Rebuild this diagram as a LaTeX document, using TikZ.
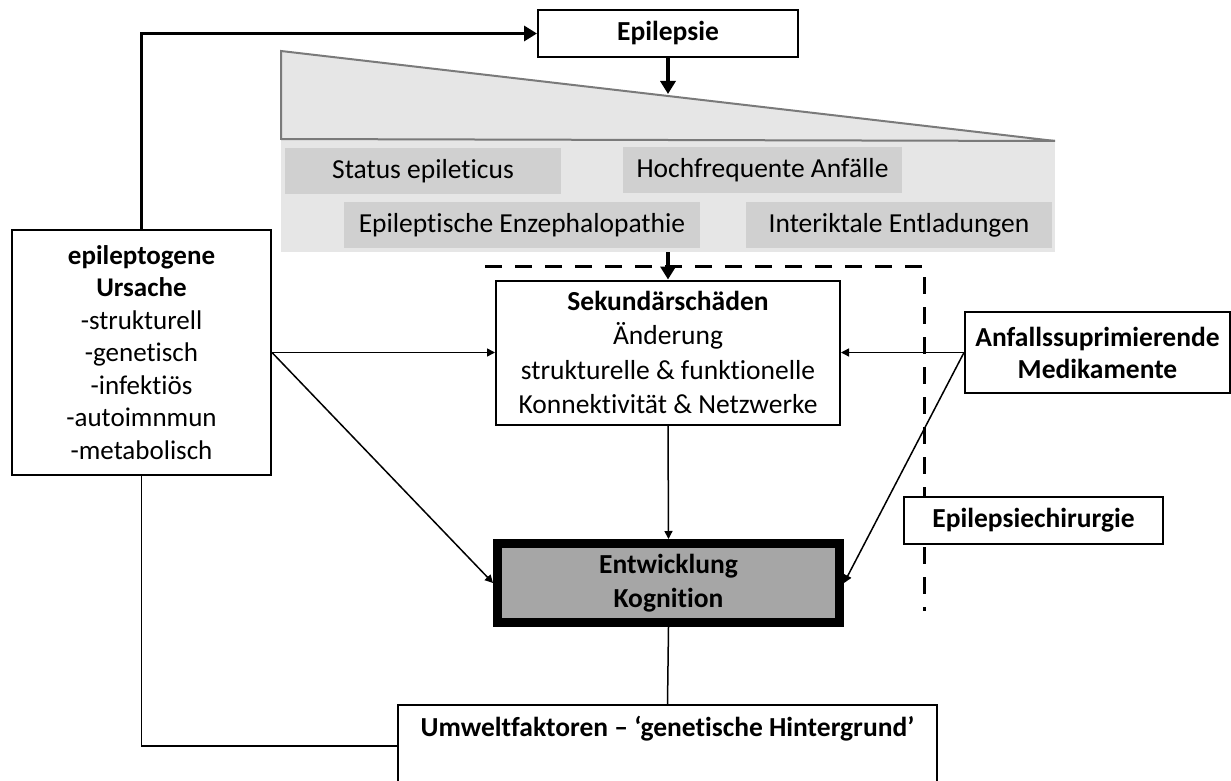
\documentclass[tikz,border=0pt]{standalone}
\usepackage{fontspec}
\setmainfont{Carlito}[Ligatures=NoCommon]
\usetikzlibrary{arrows.meta}
\definecolor{bgfill}{HTML}{E6E6E6}
\definecolor{gfill}{HTML}{D0D0D0}
\definecolor{wedgeline}{HTML}{7A7A7A}
\definecolor{entfill}{HTML}{A6A6A6}
\begin{document}
\begin{tikzpicture}[x=1pt,y=-1pt,
  box/.style={draw=black,line width=2pt,fill=white,inner sep=0pt,align=center,font=\fontsize{27.5}{33}\selectfont},
  gbox/.style={fill=gfill,inner sep=0pt,minimum height=46pt,font=\fontsize{27.5}{32}\selectfont},
  thinline/.style={line width=1.5pt},
  thinarrow/.style={line width=1.5pt,-{Triangle[width=8pt,length=8pt]}},
  thickarrow/.style={line width=3.5pt,-{Triangle[width=15pt,length=13pt]}},
  dashline/.style={line width=3pt,dash pattern=on 17pt off 13pt}]
\clip (0,0) rectangle (1231,781);
\useasboundingbox (0,0) rectangle (1231,781);
% background area and wedge
\node[fill=bgfill,inner sep=0pt,minimum width=774pt,minimum height=113pt] (bg) at (668,195.5) {};
\coordinate (w1) at (281,51);
\coordinate (w2) at (1055,141);
\coordinate (w3) at (281,139);
\filldraw[fill=bgfill,draw=wedgeline,line width=2pt,line join=miter] (w1) -- (w2) -- (w3) -- cycle;
% gray boxes
\node[gbox,minimum width=276pt] (st) at (423,171) {Status epileticus};
\node[gbox,minimum width=279pt] (hf) at (762.5,170) {Hochfrequente Anfälle};
\node[gbox,minimum width=356pt] (ee) at (522,225) {Epileptische Enzephalopathie};
\node[gbox,minimum width=306pt] (ie) at (899,225) {Interiktale Entladungen};
% dashed line
\coordinate (d1) at (485,266);
\coordinate (d2) at (924,266);
\coordinate (d3) at (924,611);
\draw[dashline] (d1) -- (d2) -- (d3);
% boxes
\node[box,minimum width=260pt,minimum height=47pt] (epi) at (668,33.5) {\textbf{Epilepsie}};
\node[box,minimum width=259pt,minimum height=245pt,font=\fontsize{27}{32.5}\selectfont] (epil) at (141.5,352.5)
  {\textbf{epileptogene}\\\textbf{Ursache}\\-strukturell\\-genetisch\\-infektiös\\-autoimnmun\\-metabolisch};
\node[box,minimum width=344pt,minimum height=144pt,font=\fontsize{27.5}{34.5}\selectfont] (sek) at (668,352.5)
  {\textbf{Sekundärschäden}\\Änderung\\strukturelle \& funktionelle\\Konnektivität \& Netzwerke};
\node[box,minimum width=265pt,minimum height=81pt,font=\fontsize{27.5}{32}\selectfont] (anf) at (1097.5,352.5)
  {\textbf{Anfallssuprimierende}\\\textbf{Medikamente}};
\node[box,line width=9pt,fill=entfill,outer sep=4.5pt,minimum width=342pt,minimum height=79pt,font=\fontsize{27.5}{34}\selectfont] (ent) at (668.5,583)
  {\textbf{Entwicklung}\\\textbf{Kognition}};
\node[box,minimum width=259pt,minimum height=47pt] (chir) at (1033.5,520.5) {\textbf{Epilepsiechirurgie}};
\node[box,anchor=north,minimum width=539pt,text height=31pt,text depth=51pt] (umw) at (667.5,704)
  {\textbf{Umweltfaktoren – ‘genetische Hintergrund’}};
% connectors
\coordinate (wtop) at (668,94);
\draw[thickarrow] (epil.north) |- (epi.west);
\draw[thickarrow] (epi.south) -- (wtop);
\draw[thickarrow] (bg.south) -- (sek.north);
\draw[thinarrow] (epil.east) -- (sek.west);
\draw[thinarrow] (epil.east) -- (ent.west);
\draw[thinarrow] (anf.west) -- (sek.east);
\draw[thinarrow] (anf.west) -- (ent.east);
\draw[thinarrow] (sek.south) -- (ent.north);
\draw[thinline] (ent.south) -- (umw.north);
\draw[thinline] (epil.south) |- (umw.west);
\end{tikzpicture}
\end{document}
